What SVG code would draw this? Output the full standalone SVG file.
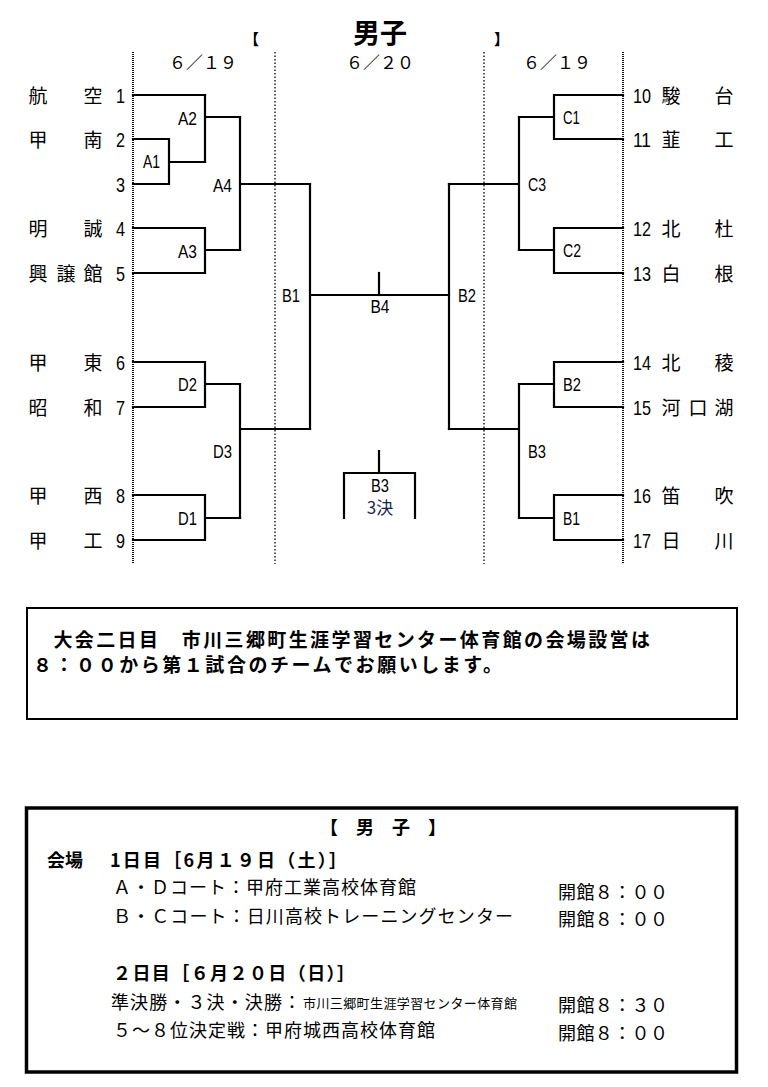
<svg xmlns="http://www.w3.org/2000/svg" width="768" height="1087" viewBox="0 0 768 1087">
<style>
.bg{fill:#fff}
.ln{fill:none;stroke:#000;stroke-width:2.2;stroke-linecap:square}
.dotO{stroke:#111;stroke-width:2;stroke-dasharray:1 1}
.dotI{stroke:#111;stroke-width:1.4;stroke-dasharray:1.5 2}
.jp{font-family:"Noto Sans CJK JP","Liberation Sans",sans-serif;fill:#000}
.nm{font-size:19px;text-anchor:middle}
.num{font-family:"Liberation Sans",Arial,sans-serif;font-size:21px;fill:#000;text-anchor:middle}
.lbl{font-family:"Liberation Sans",Arial,sans-serif;font-size:18px;fill:#000}
.end{text-anchor:end}
.mid{text-anchor:middle}
.date{font-size:17px;text-anchor:middle}
.b{font-weight:bold}
.box{fill:none;stroke:#000}
</style>
<rect class="bg" width="768" height="1087"/>

<g id="header">
  <text class="jp b" x="244" y="45" font-size="15">【</text>
  <text class="jp b" x="380" y="43" font-size="27" text-anchor="middle">男子</text>
  <text class="jp b" x="494" y="45" font-size="15">】</text>
  <text class="jp date" x="203" y="69">６／１９</text>
  <text class="jp date" x="380" y="69">６／２０</text>
  <text class="jp date" x="557" y="69">６／１９</text>
</g>

<g id="guides">
  <line class="dotO" x1="133" y1="52" x2="133" y2="564"/>
  <line class="dotI" x1="275" y1="52" x2="275" y2="564"/>
  <line class="dotI" x1="484" y1="52" x2="484" y2="564"/>
  <line class="dotO" x1="623" y1="52" x2="623" y2="564"/>
</g>

<g id="connectors">
  <path class="ln" d="M133 95 H205"/>
  <path class="ln" d="M133 139 H169 V184 H133 M169 162 H205"/>
  <path class="ln" d="M205 95 V162 M205 117 H240"/>
  <path class="ln" d="M133 228 H205 V273 H133 M205 250 H240"/>
  <path class="ln" d="M240 117 V250 M240 184 H310"/>
  <path class="ln" d="M133 362 H205 V407 H133 M205 384 H240"/>
  <path class="ln" d="M133 495 H205 V540 H133 M205 518 H240"/>
  <path class="ln" d="M240 384 V518 M240 429 H310"/>
  <path class="ln" d="M310 184 V429 M310 295 H449"/>
  <path class="ln" d="M379 273 V295"/>
  <path class="ln" d="M623 95 H554 V139 H623 M554 117 H519"/>
  <path class="ln" d="M623 228 H554 V273 H623 M554 250 H519"/>
  <path class="ln" d="M519 117 V250 M519 184 H449"/>
  <path class="ln" d="M623 362 H554 V407 H623 M554 384 H519"/>
  <path class="ln" d="M623 495 H554 V540 H623 M554 518 H519"/>
  <path class="ln" d="M519 384 V518 M519 429 H449"/>
  <path class="ln" d="M449 184 V429"/>
  <path class="ln" d="M379 451 V473 M344 518 V473 H415 V518"/>
</g>

<g id="team-1"><text class="jp nm" x="38" y="103">航</text><text class="jp nm" x="93" y="103">空</text><text class="num" x="120.5" y="103" textLength="9" lengthAdjust="spacingAndGlyphs">1</text></g>
<g id="team-2"><text class="jp nm" x="38" y="147">甲</text><text class="jp nm" x="93" y="147">南</text><text class="num" x="120.5" y="147" textLength="9" lengthAdjust="spacingAndGlyphs">2</text></g>
<g id="team-3"><text class="num" x="120.5" y="192" textLength="9" lengthAdjust="spacingAndGlyphs">3</text></g>
<g id="team-4"><text class="jp nm" x="38" y="236">明</text><text class="jp nm" x="93" y="236">誠</text><text class="num" x="120.5" y="236" textLength="9" lengthAdjust="spacingAndGlyphs">4</text></g>
<g id="team-5"><text class="jp nm" x="38" y="281">興</text><text class="jp nm" x="66" y="281">譲</text><text class="jp nm" x="93" y="281">館</text><text class="num" x="120.5" y="281" textLength="9" lengthAdjust="spacingAndGlyphs">5</text></g>
<g id="team-6"><text class="jp nm" x="38" y="370">甲</text><text class="jp nm" x="93" y="370">東</text><text class="num" x="120.5" y="370" textLength="9" lengthAdjust="spacingAndGlyphs">6</text></g>
<g id="team-7"><text class="jp nm" x="38" y="415">昭</text><text class="jp nm" x="93" y="415">和</text><text class="num" x="120.5" y="415" textLength="9" lengthAdjust="spacingAndGlyphs">7</text></g>
<g id="team-8"><text class="jp nm" x="38" y="503">甲</text><text class="jp nm" x="93" y="503">西</text><text class="num" x="120.5" y="503" textLength="9" lengthAdjust="spacingAndGlyphs">8</text></g>
<g id="team-9"><text class="jp nm" x="38" y="548">甲</text><text class="jp nm" x="93" y="548">工</text><text class="num" x="120.5" y="548" textLength="9" lengthAdjust="spacingAndGlyphs">9</text></g>

<g id="team-10"><text class="num" x="642" y="103" textLength="18" lengthAdjust="spacingAndGlyphs">10</text><text class="jp nm" x="671" y="103">駿</text><text class="jp nm" x="724" y="103">台</text></g>
<g id="team-11"><text class="num" x="642" y="147" textLength="18" lengthAdjust="spacingAndGlyphs">11</text><text class="jp nm" x="671" y="147">韮</text><text class="jp nm" x="724" y="147">工</text></g>
<g id="team-12"><text class="num" x="642" y="236" textLength="18" lengthAdjust="spacingAndGlyphs">12</text><text class="jp nm" x="671" y="236">北</text><text class="jp nm" x="724" y="236">杜</text></g>
<g id="team-13"><text class="num" x="642" y="281" textLength="18" lengthAdjust="spacingAndGlyphs">13</text><text class="jp nm" x="671" y="281">白</text><text class="jp nm" x="724" y="281">根</text></g>
<g id="team-14"><text class="num" x="642" y="370" textLength="18" lengthAdjust="spacingAndGlyphs">14</text><text class="jp nm" x="671" y="370">北</text><text class="jp nm" x="724" y="370">稜</text></g>
<g id="team-15"><text class="num" x="642" y="415" textLength="18" lengthAdjust="spacingAndGlyphs">15</text><text class="jp nm" x="671" y="415">河</text><text class="jp nm" x="698" y="415">口</text><text class="jp nm" x="724" y="415">湖</text></g>
<g id="team-16"><text class="num" x="642" y="503" textLength="18" lengthAdjust="spacingAndGlyphs">16</text><text class="jp nm" x="671" y="503">笛</text><text class="jp nm" x="724" y="503">吹</text></g>
<g id="team-17"><text class="num" x="642" y="548" textLength="18" lengthAdjust="spacingAndGlyphs">17</text><text class="jp nm" x="671" y="548">日</text><text class="jp nm" x="724" y="548">川</text></g>

<g id="match-A1"><text class="lbl end" x="160" y="168" textLength="17" lengthAdjust="spacingAndGlyphs">A1</text></g>
<g id="match-A2"><text class="lbl end" x="197" y="125" textLength="19" lengthAdjust="spacingAndGlyphs">A2</text></g>
<g id="match-A3"><text class="lbl end" x="197" y="258" textLength="19" lengthAdjust="spacingAndGlyphs">A3</text></g>
<g id="match-A4"><text class="lbl end" x="232" y="192" textLength="19" lengthAdjust="spacingAndGlyphs">A4</text></g>
<g id="match-D2"><text class="lbl end" x="197" y="391" textLength="19" lengthAdjust="spacingAndGlyphs">D2</text></g>
<g id="match-D1"><text class="lbl end" x="197" y="525" textLength="19" lengthAdjust="spacingAndGlyphs">D1</text></g>
<g id="match-D3"><text class="lbl end" x="232" y="458" textLength="19" lengthAdjust="spacingAndGlyphs">D3</text></g>
<g id="match-B1-semi"><text class="lbl end" x="300" y="302" textLength="18" lengthAdjust="spacingAndGlyphs">B1</text></g>
<g id="match-B4"><text class="lbl mid" x="380" y="313" textLength="19" lengthAdjust="spacingAndGlyphs">B4</text></g>
<g id="match-B2-semi"><text class="lbl" x="458" y="302" textLength="18" lengthAdjust="spacingAndGlyphs">B2</text></g>
<g id="match-B3-third"><text class="lbl mid" x="380" y="492" textLength="18" lengthAdjust="spacingAndGlyphs">B3</text><text class="jp" x="380" y="514" font-size="17" text-anchor="middle" style="fill:#1a2550">3決</text></g>
<g id="match-C1"><text class="lbl" x="563" y="124" textLength="17" lengthAdjust="spacingAndGlyphs">C1</text></g>
<g id="match-C2"><text class="lbl" x="563" y="257" textLength="18" lengthAdjust="spacingAndGlyphs">C2</text></g>
<g id="match-C3"><text class="lbl" x="528" y="191" textLength="18" lengthAdjust="spacingAndGlyphs">C3</text></g>
<g id="match-B2"><text class="lbl" x="563" y="391" textLength="18" lengthAdjust="spacingAndGlyphs">B2</text></g>
<g id="match-B1"><text class="lbl" x="563" y="525" textLength="17" lengthAdjust="spacingAndGlyphs">B1</text></g>
<g id="match-B3"><text class="lbl" x="528" y="458" textLength="18" lengthAdjust="spacingAndGlyphs">B3</text></g>

<g id="notice">
  <rect class="box" x="27" y="608" width="710" height="111" stroke-width="2"/>
  <text class="jp b" x="32" y="647" font-size="19" textLength="618" lengthAdjust="spacing">　大会二日目　市川三郷町生涯学習センター体育館の会場設営は</text>
  <text class="jp b" x="33" y="672" font-size="19" textLength="469" lengthAdjust="spacing">８：００から第１試合のチームでお願いします。</text>
</g>

<g id="venues">
  <rect class="box" x="26.5" y="808" width="710" height="264" stroke-width="3.5"/>
  <text class="jp b" x="383" y="834" font-size="18" text-anchor="middle">【　男　子　】</text>
  <text class="jp b" x="47" y="867" font-size="18">会場</text>
  <text class="jp b" x="110" y="867" font-size="18" textLength="237" lengthAdjust="spacing">1日目［6月１９日（土）］</text>
  <text class="jp" x="113" y="894" font-size="18" textLength="303" lengthAdjust="spacing">Ａ・Ｄコート：甲府工業高校体育館</text>
  <text class="jp" x="558" y="899" font-size="18" textLength="110" lengthAdjust="spacing">開館８：００</text>
  <text class="jp" x="113" y="923" font-size="18" textLength="400" lengthAdjust="spacing">Ｂ・Ｃコート：日川高校トレーニングセンター</text>
  <text class="jp" x="558" y="926" font-size="18" textLength="110" lengthAdjust="spacing">開館８：００</text>
  <text class="jp b" x="113" y="980" font-size="18" textLength="242" lengthAdjust="spacing">２日目［６月２０日（日）］</text>
  <text class="jp" x="111" y="1009" font-size="18" textLength="190" lengthAdjust="spacing">準決勝・３決・決勝：</text>
  <text class="jp" x="303" y="1008" font-size="13" textLength="214" lengthAdjust="spacing">市川三郷町生涯学習センター体育館</text>
  <text class="jp" x="558" y="1012" font-size="18" textLength="110" lengthAdjust="spacing">開館８：３０</text>
  <text class="jp" x="113" y="1037" font-size="18" textLength="322" lengthAdjust="spacing">５～８位決定戦：甲府城西高校体育館</text>
  <text class="jp" x="558" y="1040" font-size="18" textLength="110" lengthAdjust="spacing">開館８：００</text>
</g>
</svg>
